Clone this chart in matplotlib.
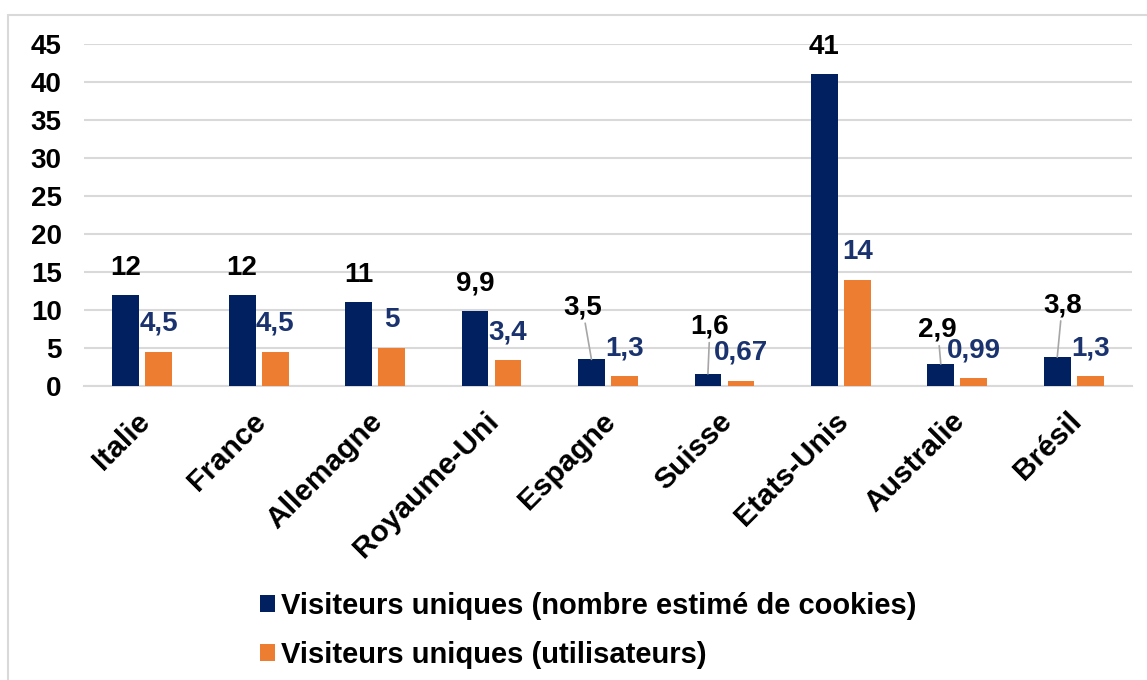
import matplotlib.pyplot as plt
import matplotlib.transforms as mtrans
import numpy as np
from matplotlib.patches import Rectangle

countries = ['Italie', 'France', 'Allemagne', 'Royaume-Uni', 'Espagne',
             'Suisse', 'Etats-Unis', 'Australie', 'Brésil']
cookies = [12, 12, 11, 9.9, 3.5, 1.6, 41, 2.9, 3.8]
users = [4.5, 4.5, 5, 3.4, 1.3, 0.67, 14, 0.99, 1.3]

series_names = ['Visiteurs uniques (nombre estimé de cookies)',
                'Visiteurs uniques (utilisateurs)']

NAVY = '#002060'
ORANGE = '#ED7D31'
LABEL_BLUE = '#1a336e'
GRID = '#d9d9d9'

# label offsets (pixels) for the navy labels; moved ones get a leader line
navy_offsets = [(0, 27), (0, 27), (0, 27), (0, 27), (-9, 52),
                (2, 47), (0, 27), (-3, 34), (5, 52)]


def fmt(v):
    if float(v).is_integer():
        return str(int(v))
    return ('%g' % v).replace('.', ',')


plt.rcParams['font.family'] = ['Liberation Sans', 'DejaVu Sans']
plt.rcParams['font.weight'] = 'bold'

fig = plt.figure(figsize=(11.47, 6.8), dpi=100)
fig.patches.append(Rectangle((8 / 1147, -0.2), 1.5, 1.2 - 15 / 680,
                             transform=fig.transFigure, fill=False,
                             edgecolor=GRID, linewidth=1.5))
ax = fig.add_axes([84 / 1147, 1 - 386 / 680, (1132 - 84) / 1147, (386 - 44) / 680])

x = np.arange(len(countries))
w = 0.23
off = 0.142
b1 = ax.bar(x - off, cookies, w, color=NAVY, label=series_names[0], zorder=3)
b2 = ax.bar(x + off, users, w, color=ORANGE, label=series_names[1], zorder=3)

ax.set_xlim(-0.5, len(countries) - 0.5)
ax.set_ylim(0, 45)
ax.set_yticks(range(0, 50, 5))
ax.yaxis.grid(True, color=GRID, linewidth=1.5, zorder=0)
ax.set_axisbelow(True)
for s in ['top', 'right', 'left']:
    ax.spines[s].set_visible(False)
ax.spines['bottom'].set_color(GRID)
ax.spines['bottom'].set_linewidth(1.5)
ax.tick_params(axis='both', length=0, labelsize=20)
ax.tick_params(axis='y', pad=16)

ax.set_xticks(x)
ax.set_xticklabels(countries, rotation=45, ha='right', va='center',
                   rotation_mode='anchor', fontsize=21.5)
shift = mtrans.ScaledTranslation(0.03, -0.26, fig.dpi_scale_trans)
for lab in ax.get_xticklabels():
    lab.set_transform(lab.get_transform() + shift)

pt = 72 / fig.dpi
for i, v in enumerate(cookies):
    dx, dy = navy_offsets[i]
    lead = dx != 0 or dy != 27
    ax.annotate(fmt(v), xy=(x[i] - off, v), xytext=(dx * pt, dy * pt),
                textcoords='offset points', ha='center', va='center',
                fontsize=20, fontweight='bold', color='black', zorder=4,
                arrowprops=dict(arrowstyle='-', color='#a6a6a6', lw=1.2,
                                shrinkA=0, shrinkB=0) if lead else None)
for i, v in enumerate(users):
    ax.annotate(fmt(v), xy=(x[i] + off, v), xytext=(0, 28 * pt),
                textcoords='offset points', ha='center', va='center',
                fontsize=20, fontweight='bold', color=LABEL_BLUE, zorder=4)

fig.legend(handles=[b1, b2], loc='upper left', bbox_to_anchor=(248 / 1147, 1 - 580 / 680),
           frameon=False, handlelength=0.52, handleheight=0.52, handletextpad=0.22,
           labelspacing=0.73, borderaxespad=0,
           prop={'family': ['Liberation Sans Narrow', 'Liberation Sans'],
                 'weight': 'bold', 'size': 21})

fig.savefig('out.png', dpi=100)
